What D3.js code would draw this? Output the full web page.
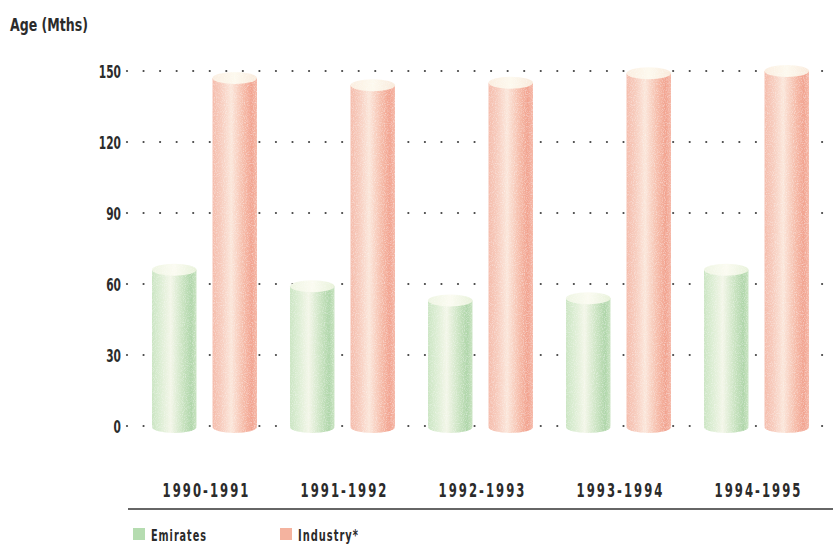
<!DOCTYPE html>
<html>
<head>
<meta charset="utf-8">
<script src="https://cdn.jsdelivr.net/npm/d3@7"></script>
<style>
  body { margin: 0; background: #fff; }
  svg text { font-family: "DejaVu Sans Condensed", "DejaVu Sans", sans-serif; font-stretch: condensed; font-weight: bold; fill: #2b2b2b; }
</style>
</head>
<body>
<svg id="chart" width="833" height="547"></svg>
<script>
// data
var categories = ["1990-1991", "1991-1992", "1992-1993", "1993-1994", "1994-1995"];
var seriesNames = ["Emirates", "Industry*"];
var emirates = [66, 59, 53, 54, 66];
var industry = [147, 144, 145, 149, 150];
var yTicks = [0, 30, 60, 90, 120, 150];

var svg = d3.select("#chart");

var y = d3.scaleLinear().domain([0, 150]).range([426, 71]);
var x = d3.scaleBand().domain(categories).range([135.5, 825.5]).padding(0);
var xs = d3.scaleBand().domain(seriesNames).range([16.5, 121.5]).paddingInner(0.265);

var ry = 6;

// squeeze a text to a given width (the condensed face is not always there)
function fit(sel, px, py, w) {
    sel.attr("x", 0).attr("y", 0);
    sel.each(function(d, i) {
        var tw = this.getComputedTextLength();
        var k = typeof w === "function" ? w(d, i) / tw : w / tw;
        var tx = typeof px === "function" ? px(d, i) : px;
        var ty = typeof py === "function" ? py(d, i) : py;
        d3.select(this).attr("transform", "translate(" + tx + "," + ty + ") scale(" + k + ",1)");
    });
}

// gradients
var defs = svg.append("defs");
function makeGrad(id, stops) {
    var g = defs.append("linearGradient").attr("id", id)
        .attr("x1", "0%").attr("x2", "100%").attr("y1", "0%").attr("y2", "0%");
    stops.forEach(function(s) {
        g.append("stop").attr("offset", s[0]).attr("stop-color", s[1]);
    });
}
makeGrad("gGreen", [["0%", "#cbe5c3"], ["18%", "#dbedd2"], ["42%", "#f3f6e8"], ["68%", "#cbe4c2"], ["88%", "#afd6a9"], ["100%", "#c8e3c0"]]);
makeGrad("gRed", [["0%", "#f5bcab"], ["18%", "#f7cabb"], ["42%", "#fbe6da"], ["70%", "#f6bba8"], ["88%", "#f2a38f"], ["100%", "#f5b8a7"]]);
makeGrad("gCapG", [["0%", "#eef5e2"], ["50%", "#fbfbf1"], ["100%", "#e8f2da"]]);
makeGrad("gCapR", [["0%", "#fbeee0"], ["50%", "#fdf9ee"], ["100%", "#f9eadb"]]);

// grain
var f = defs.append("filter").attr("id", "grain").attr("x", "0").attr("y", "0").attr("width", "100%").attr("height", "100%");
f.append("feTurbulence").attr("type", "fractalNoise").attr("baseFrequency", "0.9").attr("numOctaves", 2).attr("result", "n");
f.append("feColorMatrix").attr("in", "n").attr("type", "matrix")
    .attr("values", "0 0 0 0 1  0 0 0 0 1  0 0 0 0 1  0 0 0 -0.9 0.5").attr("result", "w");
f.append("feComposite").attr("in", "w").attr("in2", "SourceGraphic").attr("operator", "in").attr("result", "wc");
var fm = f.append("feMerge");
fm.append("feMergeNode").attr("in", "SourceGraphic");
fm.append("feMergeNode").attr("in", "wc");

// y title
svg.append("text").style("font-size", "17.5px")
    .text("Age (Mths)")
    .call(fit, 10, 31, 78);

// dotted grid
var dotXs = d3.range(0, 43).map(function(k) { return 127 + k * 16.55; });
yTicks.forEach(function(t) {
    svg.append("g").selectAll("circle").data(dotXs).enter().append("circle")
        .attr("cx", function(d) { return d; })
        .attr("cy", y(t))
        .attr("r", 1.1)
        .attr("fill", "#444");
});

// y labels
svg.append("g").selectAll("text").data(yTicks).enter().append("text")
    .attr("text-anchor", "end")
    .style("font-size", "18px")
    .text(function(d) { return d; })
    .call(fit, 121, function(d) { return y(d) + 6.5; }, function(d) { return String(d).length * 7.4; });

// cylinders
var rows = [];
categories.forEach(function(c, i) {
    rows.push({ cat: c, s: seriesNames[0], v: emirates[i], body: "gGreen", cap: "gCapG" });
    rows.push({ cat: c, s: seriesNames[1], v: industry[i], body: "gRed", cap: "gCapR" });
});

var bars = svg.append("g").attr("filter", "url(#grain)")
    .selectAll("g").data(rows).enter().append("g");

bars.append("rect")
    .attr("x", function(d) { return x(d.cat) + xs(d.s); })
    .attr("y", function(d) { return y(d.v); })
    .attr("width", xs.bandwidth())
    .attr("height", function(d) { return y(0) - y(d.v); })
    .attr("fill", function(d) { return "url(#" + d.body + ")"; });

bars.append("ellipse")
    .attr("cx", function(d) { return x(d.cat) + xs(d.s) + xs.bandwidth() / 2; })
    .attr("cy", y(0) + 1)
    .attr("rx", xs.bandwidth() / 2)
    .attr("ry", ry)
    .attr("fill", function(d) { return "url(#" + d.body + ")"; });

bars.append("ellipse")
    .attr("cx", function(d) { return x(d.cat) + xs(d.s) + xs.bandwidth() / 2; })
    .attr("cy", function(d) { return y(d.v); })
    .attr("rx", xs.bandwidth() / 2)
    .attr("ry", ry)
    .attr("fill", function(d) { return "url(#" + d.cap + ")"; });

// category labels
svg.append("g").selectAll("text").data(categories).enter().append("text")
    .attr("text-anchor", "middle")
    .style("font-size", "19px")
    .style("letter-spacing", "3px")
    .text(function(d) { return d; })
    .call(fit, function(d) { return x(d) + x.bandwidth() / 2 + 2; }, 497, 88);

// base rule
svg.append("line")
    .attr("x1", 128).attr("x2", 833).attr("y1", 509).attr("y2", 509)
    .attr("stroke", "#333").attr("stroke-width", 1.4);

// legend
var legX = [133, 280];
var legW = [56, 61];
var legColors = ["#b5dcb0", "#f4b39f"];
seriesNames.forEach(function(s, i) {
    svg.append("rect").attr("x", legX[i]).attr("y", 528)
        .attr("width", 12).attr("height", 12).attr("fill", legColors[i]);
    svg.append("text")
        .style("font-size", "16.5px").style("letter-spacing", "1.5px")
        .text(s)
        .call(fit, legX[i] + 18, 541, legW[i]);
});
</script>
</body>
</html>
